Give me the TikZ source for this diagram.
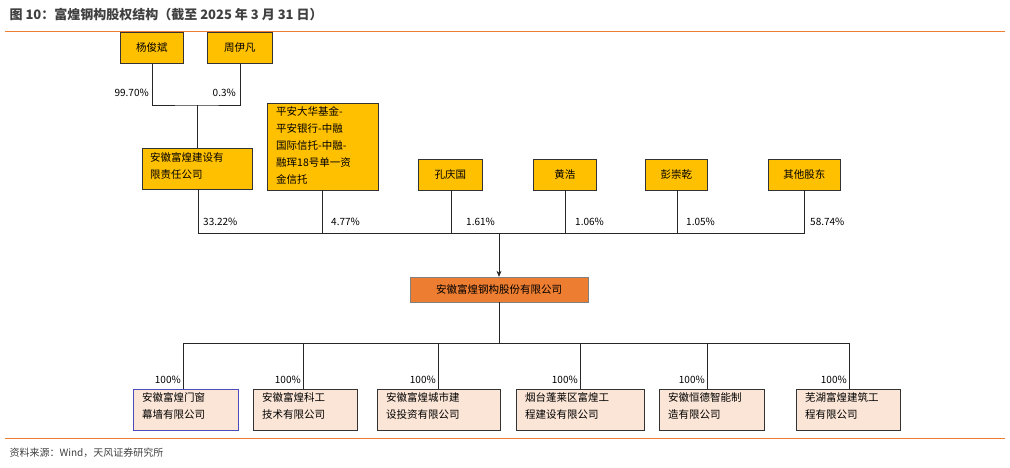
\documentclass[tikz,border=0pt]{standalone}
\usepackage{fontspec}
\setmainfont{Noto Sans CJK SC}
\usetikzlibrary{arrows.meta}
\definecolor{gold}{HTML}{FFC000}
\definecolor{org}{HTML}{ED7D31}
\definecolor{pk}{HTML}{FBE5D6}
\definecolor{tg}{HTML}{404040}
\tikzset{
 yb/.style={draw=black!80,fill=gold,line width=0.8pt,inner sep=0pt,font=\fontsize{10.5}{14}\selectfont},
 pb/.style={draw=black!80,fill=pk,line width=0.8pt,inner sep=0pt,font=\fontsize{10.5}{15}\selectfont},
 ln/.style={line width=0.6pt,black!85},
 pc/.style={font=\fontsize{10}{12}\selectfont,anchor=east,inner sep=1pt},
 pr/.style={font=\fontsize{10}{12}\selectfont,anchor=west,inner sep=1pt}
}
\newcommand{\bx}[6]{\node[#1,minimum width=#4-#2,minimum height=#5-#3,anchor=north west] (#6) at (#2,#3) {};}
\begin{document}
\begin{tikzpicture}[x=1pt,y=-1pt]
\useasboundingbox (0,0) rectangle (1010,467);
\node[anchor=west,text=tg,font=\fontsize{13}{15}\selectfont\bfseries] (title) at (6,15) {图 10：富煌钢构股权结构（截至 2025 年 3 月 31 日）};
\draw[org,line width=1pt] (5,31) -- (1005,31);
\draw[org,line width=1pt] (5,438) -- (1005,438);
\node[anchor=west,text=tg,font=\fontsize{10}{12}\selectfont] (src) at (6,453) {资料来源：Wind，天风证券研究所};
% top
\bx{yb}{120}{32}{183}{63}{yang}\node[font=\fontsize{10.5}{14}\selectfont] at (yang) {杨俊斌};
\bx{yb}{207}{32}{272}{63}{zhou}\node[font=\fontsize{10.5}{14}\selectfont] at (zhou) {周伊凡};
\coordinate (j1) at (197,105);
\draw[ln] (yang.south) |- (j1) -| (zhou.south);
\node[pc] at (150,93) {99.70\%};
\node[pc] at (237,93) {0.3\%};
\bx{yb}{142}{148}{252}{189}{fh}
\node[align=left,anchor=north west,font=\fontsize{10.5}{17}\selectfont,inner sep=0pt] at (150,152) {安徽富煌建设有\\限责任公司};
\draw[ln] (j1) -- (fh.north -| j1);
\bx{yb}{267}{103}{378}{190}{pa}
\node[align=left,anchor=north west,font=\fontsize{10.5}{17}\selectfont,inner sep=0pt] at (276,106) {平安大华基金-\\平安银行-中融\\国际信托-中融-\\融珲18号单一资\\金信托};
\bx{yb}{418}{159}{482}{190}{kong}\node[font=\fontsize{10.5}{14}\selectfont] at (kong) {孔庆国};
\bx{yb}{533}{159}{596}{190}{huang}\node[font=\fontsize{10.5}{14}\selectfont] at (huang) {黄浩};
\bx{yb}{645}{159}{707}{190}{peng}\node[font=\fontsize{10.5}{14}\selectfont] at (peng) {彭崇乾};
\bx{yb}{768}{159}{840}{190}{qt}\node[font=\fontsize{10.5}{14}\selectfont] at (qt) {其他股东};
\coordinate (h1) at (198,233);
\coordinate (h2) at (804,233);
\draw[ln] (198,189) -- (h1) -- (h2) -- (804,190);
\draw[ln] (322,190) -- (322,233);
\draw[ln] (451,190) -- (451,233);
\draw[ln] (565,190) -- (565,233);
\draw[ln] (677,190) -- (677,233);
\node[pr] at (202,222) {33.22\%};
\node[pr] at (330,222) {4.77\%};
\node[pr] at (465,222) {1.61\%};
\node[pr] at (574,222) {1.06\%};
\node[pr] at (685,222) {1.05\%};
\node[pr] at (809,222) {58.74\%};
% main company
\node[draw=black!50,fill=org,minimum width=178,minimum height=25,inner sep=0pt,font=\fontsize{10.5}{14}\selectfont] (main) at (499,289.5) {安徽富煌钢构股份有限公司};
\draw[ln,-{Stealth[length=6pt,width=5pt]}] (499,233) -- (main.north);
\coordinate (b1) at (183,343);
\coordinate (b2) at (849,343);
\draw[ln] (main.south) -- (499,343);
\draw[ln] (b1) -- (b2);
\foreach \a/\b/\v/\t/\n [count=\i] in {
 133/238/183/{安徽富煌门窗\\幕墙有限公司}/c1,
 253/357/303/{安徽富煌科工\\技术有限公司}/c2,
 377/500/438/{安徽富煌城市建\\设投资有限公司}/c3,
 516/644/580/{烟台蓬莱区富煌工\\程建设有限公司}/c4,
 659/764/707/{安徽恒德智能制\\造有限公司}/c5,
 796/900/849/{芜湖富煌建筑工\\程有限公司}/c6}{
 \bx{pb}{\a}{389}{\b}{430}{\n}
 \node[align=left,anchor=north west,font=\fontsize{10.5}{17}\selectfont,inner sep=0pt] at (\a+9,392) {\t};
 \draw[ln] (\v,343) -- (\v,389);
 \node[pc] at (\v-1,380) {100\%};
}
\draw[draw=blue!60!black!70,line width=0.8pt] (c1.north west) rectangle (c1.south east);
\end{tikzpicture}
\end{document}
